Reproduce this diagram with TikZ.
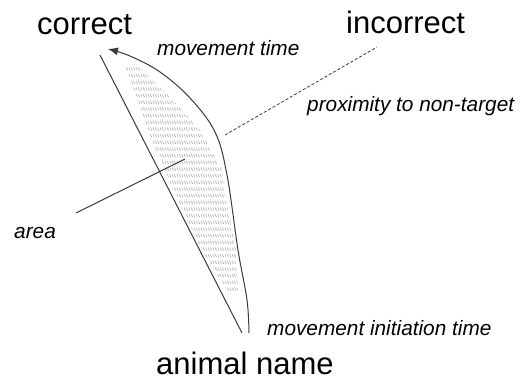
\documentclass[tikz,border=0pt]{standalone}
\usepackage{fontspec}
\setmainfont{Liberation Sans}
\usetikzlibrary{arrows.meta}
\definecolor{linegray}{HTML}{3A3A3A}
\definecolor{hatchgray}{HTML}{AAAAAA}
\begin{document}
\begin{tikzpicture}[x=1pt,y=-1pt,
  bigtext/.style={inner sep=0pt,anchor=base west,font=\fontsize{31}{36}\selectfont},
  smalltext/.style={inner sep=0pt,anchor=base west,font=\fontsize{20.8}{24}\selectfont\itshape},
  edge/.style={draw=linegray,line width=1pt},
  hatchmark/.style={draw=hatchgray,line width=0.55pt}]
\useasboundingbox (0,0) rectangle (524,380);
% labels
\node[bigtext] (correct) at (37,34) {correct};
\node[bigtext] (incorrect) at (346,33) {incorrect};
\node[bigtext] (animal) at (156,374) {animal name};
\node[smalltext] (mt) at (157,55) {movement time};
\node[smalltext] (prox) at (307,111) {proximity to non-target};
\node[smalltext] (area) at (14,238) {area};
\node[smalltext] (mit) at (267,335) {movement initiation time};
% hatch
\begin{scope}
\clip (124,66) -- (140,110) -- (156,150) -- (178,200) -- (202,250) -- (228,292)
  -- (238,292) -- (236,250) -- (224,190) -- (222,170) -- (200,130) -- (170,97) -- (138,66) -- cycle;
\foreach \k in {0,...,33}{
  \pgfmathsetmacro{\yy}{69+\k*6.67}
  \draw[hatchmark] \foreach \xx in {100,102.4,...,250}{(\xx,\yy-1.6) -- ++(1.4,3.2)};
}
\end{scope}
% coordinates
\coordinate (lt) at (100,55);
\coordinate (lb) at (242,333);
\coordinate (cb) at (249,333);
\coordinate (tip) at (108,49);
\coordinate (ds) at (225,135);
\coordinate (de) at (377,47);
\coordinate (as) at (76,213);
\coordinate (ae) at (185,159);
% lines
\draw[edge] (lt) -- (lb);
\draw[edge,-{Latex[length=10pt,width=8pt]}] plot[smooth,tension=0.6] coordinates {(249,333) (247,300) (238,250) (227,175) (215,132) (190,98) (160,72) (130,56) (108,49)};
\draw[draw=linegray,line width=0.8pt,dash pattern=on 3pt off 2pt] (ds) -- (de);
\draw[edge] (as) -- (ae);
\end{tikzpicture}
\end{document}
